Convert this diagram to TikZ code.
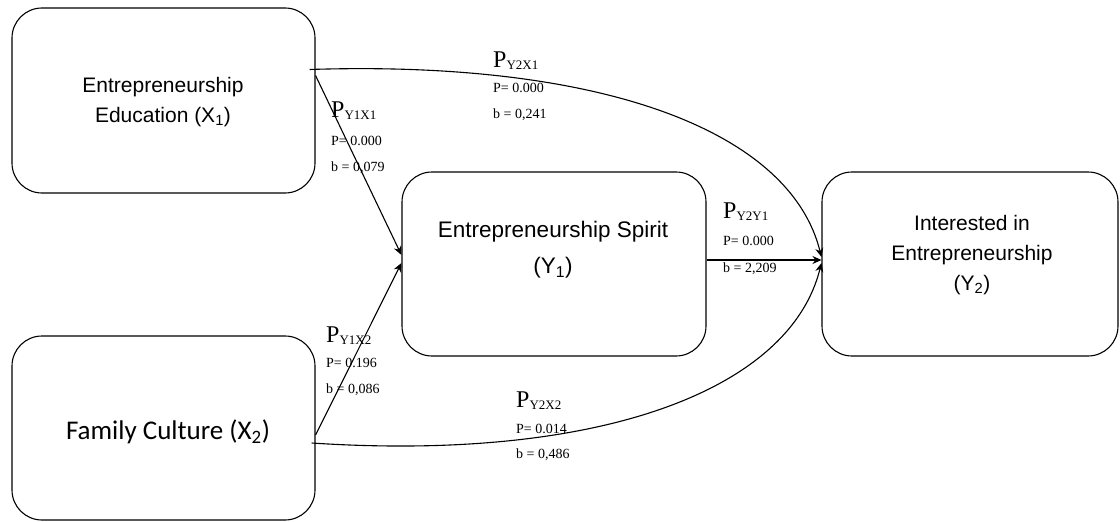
\documentclass[tikz,border=0pt]{standalone}
\usepackage{fontspec}
\setmainfont{Liberation Serif}
\newfontfamily\arialf{Liberation Sans}
\newfontfamily\calibrif{Carlito}
\usetikzlibrary{arrows.meta}
\begin{document}
\begin{tikzpicture}[x=1pt,y=-1pt,
  box/.style={draw,line width=1.1pt,rounded corners=30pt,inner sep=0pt},
  conn/.style={line width=1.1pt,-{Stealth[length=9pt,width=8pt]}},
  boxtxt/.style={font=\arialf\fontsize{21}{30}\selectfont,align=center,inner sep=0pt},
  bigp/.style={anchor=base west,inner sep=0pt,font=\fontsize{24}{24}\selectfont},
  small/.style={anchor=base west,inner sep=0pt,font=\fontsize{14}{14}\selectfont}]
\useasboundingbox (0,0) rectangle (1120,522);
% boxes
\node[box,minimum width=303pt,minimum height=185pt] (x1) at (163.5,100.5) {};
\node[box,minimum width=303pt,minimum height=184pt] (x2) at (163.5,428) {};
\node[box,minimum width=304pt,minimum height=184pt] (y1) at (554,264) {};
\node[box,minimum width=296pt,minimum height=184pt] (y2) at (970,264) {};
% texts
\node[boxtxt] (tx1) at (163,102) {Entrepreneurship\\Education (X\textsubscript{1})};
\node[inner sep=0pt,font=\calibrif\fontsize{27}{30}\selectfont] (tx2) at (168,432) {Family Culture (X\textsubscript{2})};
\node[boxtxt,font=\arialf\fontsize{22.5}{36}\selectfont] (ty1) at (553,250) {Entrepreneurship Spirit\\(Y\textsubscript{1})};
\node[boxtxt] (ty2) at (972,255) {Interested in\\Entrepreneurship\\(Y\textsubscript{2})};
% connectors
\draw[conn] ([yshift=25pt]x1.east) -- ([yshift=9pt]y1.west);
\draw[conn] ([yshift=-7pt]x2.east) -- ([yshift=1pt]y1.west);
\draw[conn] ([yshift=4pt]y1.east) -- ([yshift=4pt]y2.west);
\draw[conn] ([xshift=-6pt,yshift=31pt]x1.east) .. controls (600,60) and (790,130) .. ([yshift=7pt]y2.west);
\draw[conn] ([xshift=-4pt,yshift=-15pt]x2.east) .. controls (600,462) and (790,390) .. ([yshift=1pt]y2.west);
% labels
\newcommand{\pl}[1]{P\raisebox{-2pt}{\fontsize{13}{13}\selectfont #1}}
\node[bigp] (l1) at (493,67) {\pl{Y2X1}};
\node[small] (l1a) at (493,92) {P= 0.000};
\node[small] (l1b) at (493,118) {b = 0,241};
\node[bigp] (l2) at (331,117) {\pl{Y1X1}};
\node[small] (l2a) at (331,145) {P= 0.000};
\node[small] (l2b) at (331,171) {b = 0,079};
\node[bigp] (l3) at (723,218) {\pl{Y2Y1}};
\node[small] (l3a) at (723,245) {P= 0.000};
\node[small] (l3b) at (723,272) {b = 2,209};
\node[bigp] (l4) at (326,342) {\pl{Y1X2}};
\node[small] (l4a) at (326,367) {P= 0.196};
\node[small] (l4b) at (326,393) {b = 0,086};
\node[bigp] (l5) at (516,407) {\pl{Y2X2}};
\node[small] (l5a) at (516,433) {P= 0.014};
\node[small] (l5b) at (516,458) {b = 0,486};
\end{tikzpicture}
\end{document}
